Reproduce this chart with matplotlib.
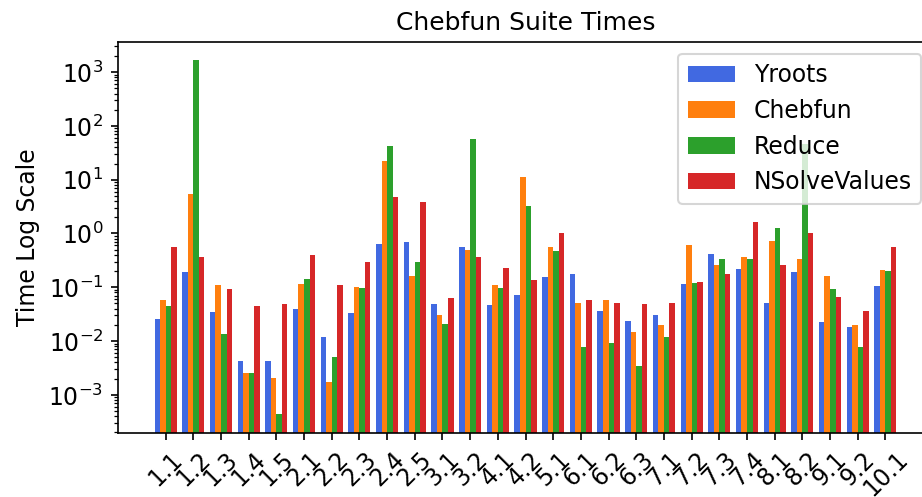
import numpy as np
import matplotlib
matplotlib.use('Agg')
import matplotlib.pyplot as plt

problems = ['1.1', '1.2', '1.3', '1.4', '1.5', '2.1', '2.2', '2.3', '2.4', '2.5',
            '3.1', '3.2', '4.1', '4.2', '5.1', '6.1', '6.2', '6.3', '7.1', '7.2',
            '7.3', '7.4', '8.1', '8.2', '9.1', '9.2', '10.1']

yroots = [0.026, 0.19, 0.034, 0.0042, 0.0042, 0.039, 0.0117, 0.033, 0.65, 0.68,
          0.048, 0.55, 0.046, 0.073, 0.152, 0.173, 0.036, 0.024, 0.031, 0.113,
          0.41, 0.22, 0.050, 0.19, 0.023, 0.018, 0.104]
chebfun = [0.057, 5.5, 0.108, 0.0026, 0.0021, 0.113, 0.0017, 0.10, 22.7, 0.16,
           0.030, 0.50, 0.108, 11.0, 0.55, 0.050, 0.059, 0.0145, 0.0195, 0.62,
           0.265, 0.36, 0.71, 0.34, 0.16, 0.0195, 0.214]
reduce_ = [0.044, 1700, 0.0133, 0.0026, 0.00044, 0.14, 0.0051, 0.095, 43, 0.29,
           0.021, 58, 0.095, 3.2, 0.48, 0.0076, 0.0091, 0.0035, 0.0117, 0.118,
           0.33, 0.33, 1.24, 47, 0.091, 0.0079, 0.197]
nsolve = [0.55, 0.36, 0.091, 0.044, 0.048, 0.39, 0.108, 0.29, 4.7, 3.77,
          0.062, 0.36, 0.224, 0.134, 1.04, 0.059, 0.052, 0.048, 0.050, 0.128,
          0.18, 1.67, 0.254, 1.0, 0.065, 0.036, 0.55]

plt.rcParams['font.size'] = 11.3

x = np.arange(len(problems))
w = 0.2

fig = plt.figure(figsize=(922 / 150, 497 / 150), dpi=150)
ax = fig.add_axes([118 / 922, 1 - 432.5 / 497, 815 / 922, 390.5 / 497])

ax.bar(x - 1.5 * w, yroots, w, color='royalblue', label='Yroots')
ax.bar(x - 0.5 * w, chebfun, w, color='tab:orange', label='Chebfun')
ax.bar(x + 0.5 * w, reduce_, w, color='tab:green', label='Reduce')
ax.bar(x + 1.5 * w, nsolve, w, color='tab:red', label='NSolveValues')

ax.set_yscale('log')
ax.set_ylim(10 ** -3.70, 10 ** 3.56)
ax.set_xlim(-1.72, 27.72)
ax.set_xticks(x)
ax.set_xticklabels(problems, rotation=45)
ax.set_ylabel('Time Log Scale')
ax.set_title('Chebfun Suite Times', fontsize=12)
ax.legend(loc='upper right')

fig.savefig('out.png', dpi=150)
